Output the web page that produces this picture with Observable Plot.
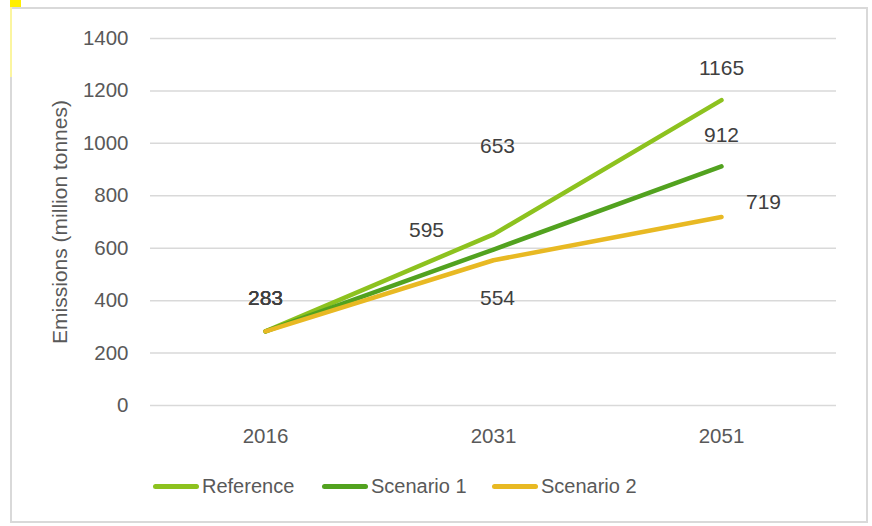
<!DOCTYPE html>
<html><head><meta charset="utf-8">
<script src="https://cdn.jsdelivr.net/npm/d3@7"></script>
<script src="https://cdn.jsdelivr.net/npm/@observablehq/plot@0.6"></script>
<style>
body{margin:0;background:#fff;font-family:"Liberation Sans",sans-serif;}
#frame{position:absolute;left:10px;top:7px;width:854px;height:512px;border:2px solid #d9d9d9;box-sizing:content-box;}
#mark{position:absolute;left:10px;top:0;width:11px;height:7px;background:#ffef00;}
#mark2{position:absolute;left:10px;top:7px;width:2px;height:70px;background:#fbf5a0;}
#chart{position:absolute;left:0;top:0;}
#legend{position:absolute;left:0;top:475px;width:872px;height:30px;}
.li{position:absolute;top:0;display:flex;align-items:center;font-size:20px;color:#595959;}
.sw{display:inline-block;width:46px;height:5px;border-radius:3px;margin-right:3px;}
</style></head><body>
<div id="frame"></div><div id="mark"></div><div id="mark2"></div>
<div id="chart"></div>
<div id="legend"></div>
<script>
const years = ["2016","2031","2051"];
const seriesNames = ["Reference","Scenario 1","Scenario 2"];
const reference = [283, 653, 1165];
const scenario1 = [283, 595, 912];
const scenario2 = [283, 554, 719];
const yTicks = [0,200,400,600,800,1000,1200,1400];
const colors = ["#8dc21f","#52a21f","#e8b923"];

const valuesBySeries = [reference, scenario1, scenario2];
const data = [];
seriesNames.forEach((s,i)=>years.forEach((y,j)=>data.push({series:s, year:y, value:valuesBySeries[i][j]})));

// label placement offsets (styling, not data)
const offsets = {
  "Reference|2016":[0,-33], "Scenario 1|2016":[0,-33], "Scenario 2|2016":[0,-33],
  "Reference|2031":[4,-88], "Scenario 1|2031":[-67,-19], "Scenario 2|2031":[4,38],
  "Reference|2051":[0,-32], "Scenario 1|2051":[0,-31], "Scenario 2|2051":[42,-15]
};
const FONT = "Liberation Sans, Arial, sans-serif";
const textMarks = data.map(d=>{
  const [dx,dy] = offsets[d.series+"|"+d.year];
  return Plot.text([d], {x:"year", y:"value", text:d=>String(d.value), dx, dy,
    fontSize:21, fill:"#404040", fontFamily:FONT});
});

const plot = Plot.plot({
  width: 872, height: 460,
  marginLeft: 150, marginRight: 36, marginTop: 38, marginBottom: 55,
  style:{fontFamily:FONT, background:"transparent", overflow:"visible"},
  x:{type:"point", domain:years, padding:0.5, label:null},
  y:{domain:[0,1400], ticks:yTicks, label:null},
  color:{domain:seriesNames, range:colors},
  marks:[
    Plot.gridY(yTicks, {stroke:"#d9d9d9", strokeOpacity:1, strokeWidth:1.5}),
    Plot.axisY(yTicks, {tickSize:0, tickPadding:22, fontSize:20.5, fill:"#595959", label:null, tickFormat:d=>String(d)}),
    Plot.axisX({tickSize:0, tickPadding:23, fontSize:20.5, fill:"#595959", label:null}),
    Plot.text(["Emissions (million tonnes)"], {frameAnchor:"left", textAnchor:"middle", dx:-90, rotate:-90, fontSize:21, fill:"#595959", text:d=>d}),
    Plot.line(data, {x:"year", y:"value", z:"series", stroke:"series", strokeWidth:4.5, strokeLinecap:"round", strokeLinejoin:"round"}),
    ...textMarks
  ]
});
document.getElementById("chart").appendChild(plot);

const legendX = [153, 322, 492];
const lg = document.getElementById("legend");
seriesNames.forEach((s,i)=>{
  const el = document.createElement("div");
  el.className="li"; el.style.left=legendX[i]+"px";
  el.innerHTML = `<span class="sw" style="background:${colors[i]}"></span><span>${s}</span>`;
  lg.appendChild(el);
});
</script>
</body></html>
